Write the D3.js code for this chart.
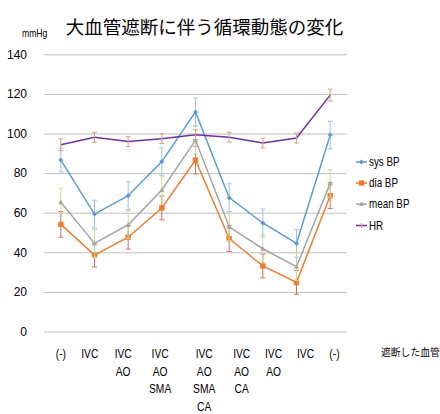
<!DOCTYPE html>
<html><head><meta charset="utf-8">
<script src="https://cdn.jsdelivr.net/npm/d3@7"></script>
<style>
html,body{margin:0;padding:0;background:#fff;}
svg{display:block;}
</style>
</head><body>
<svg id="chart" width="440" height="414"></svg>
<script>
// ---- data ----
const categories = [["(-)"],["IVC"],["IVC","AO"],["IVC","AO","SMA"],["IVC","AO","SMA","CA"],["IVC","AO","CA"],["IVC","AO"],["IVC"],["(-)"]];
const sysBP  = [86.6, 59.3, 68.6, 85.8, 110.9, 67.6, 54.8, 44.5, 99.2];
const sysErr = [6, 7, 7, 7, 7, 7, 7, 7, 7];
const diaBP  = [54.1, 38.6, 47.6, 62.4, 86.6, 46.9, 33.1, 24.8, 68.6];
const diaErr = [6.5, 6, 6, 6, 7, 6.5, 6, 6, 6.5];
const meanBP = [65.3, 44.5, 53.9, 71.5, 96.7, 52.9, 41.8, 32.7, 74.8];
const meanErr= [7, 7, 7, 7, 7, 7, 7, 7, 7];
const HR     = [94.3, 98.1, 95.9, 97.4, 99.4, 98.1, 95.2, 97.7, 119.4];
const hrErr  = [3, 2.5, 2.5, 2.5, 2.5, 2.5, 2.5, 2.5, 3];
const yTicks = [0, 20, 40, 60, 80, 100, 120, 140];
const seriesNames = ["sys BP", "dia BP", "mean BP", "HR"];
const title = "大血管遮断に伴う循環動態の変化";
const yUnit = "mmHg";
const xTitle = "遮断した血管";

// ---- layout / style ----
const labelShift = [0, -4.7, -5, -1.7, 8.7, 12.5, 10.7, 9, 4.3];
const styles = [
  {color:"#5b9bd5", err:"#9cc3e4", marker:"diamond"},
  {color:"#ed7d31", err:"#d66a6a", marker:"square"},
  {color:"#a5a5a5", err:"#c8de8e", marker:"triangle"},
  {color:"#7030a0", err:"#d8a27a", marker:"none"}
];
const sans = "'Liberation Sans',Arial,sans-serif";
const svg = d3.select("#chart");
const x = d3.scaleBand().domain(d3.range(categories.length)).range([44, 347]);
const y = d3.scaleLinear().domain([0, 140]).range([331.5, 54.3]);
const cx = i => x(i) + x.bandwidth() / 2;

// condensed text helper
function narrowText(parent, X, Y, str, size, anchor) {
  return parent.append("g").attr("transform", `translate(${X},${Y}) scale(0.82,1)`)
    .append("text").attr("x", 0).attr("y", 0).attr("text-anchor", anchor || "start")
    .attr("dominant-baseline", "central").style("font-family", sans)
    .style("font-size", size + "px").attr("fill", "#000").text(str);
}

// title
svg.append("text").attr("x", 204.5).attr("y", 25.5)
  .attr("text-anchor", "middle").attr("dominant-baseline", "central")
  .style("font-family", "'Noto Sans CJK JP',sans-serif").style("font-size", "18.5px")
  .attr("fill", "#000").text(title);
narrowText(svg, 22, 33, yUnit, 10.5);

// gridlines + y axis
const yAxis = d3.axisLeft(y).tickValues(yTicks).tickSize(-(347 - 44)).tickPadding(17);
const ga = svg.append("g").attr("transform", "translate(44,0)").call(yAxis);
ga.select(".domain").remove();
ga.selectAll(".tick line").attr("stroke", "#bfbfbf").attr("stroke-width", 1);
ga.selectAll(".tick text").style("font-family", sans)
  .style("font-size", "12px").attr("fill", "#000");

// x labels
const xl = svg.append("g");
categories.forEach((lines, i) => {
  lines.forEach((s, k) => narrowText(xl, cx(i) + labelShift[i], 354 + k * 17.5, s, 12.5, "middle"));
});
svg.append("text").attr("x", 381).attr("y", 352).attr("dominant-baseline", "central")
  .style("font-family", "'Noto Sans CJK JP',sans-serif").style("font-size", "9.8px").attr("fill", "#000").text(xTitle);

// series
const allSeries = [[sysBP, sysErr], [diaBP, diaErr], [meanBP, meanErr], [HR, hrErr]];
const line = d3.line().x((d, i) => cx(i)).y(d => y(d));
function marker(g, type, px, py, color) {
  if (type === "diamond") g.append("path").attr("d", `M${px},${py-2.5}L${px+2.5},${py}L${px},${py+2.5}L${px-2.5},${py}Z`).attr("fill", color);
  else if (type === "square") g.append("rect").attr("x", px - 2.7).attr("y", py - 2.7).attr("width", 5.4).attr("height", 5.4).attr("fill", color);
  else if (type === "triangle") g.append("path").attr("d", `M${px},${py-2.6}L${px+2.6},${py+2}L${px-2.6},${py+2}Z`).attr("fill", color);
  else if (type === "tick") g.append("path").attr("d", `M${px},${py-2.5}V${py+2.5}`).attr("stroke", color).attr("stroke-width", 1);
}
allSeries.forEach(([vals, errs], s) => {
  const st = styles[s];
  const g = svg.append("g");
  g.append("path").datum(vals).attr("d", line).attr("fill", "none")
    .attr("stroke", st.color).attr("stroke-width", 1.5);
  vals.forEach((v, i) => {
    const px = cx(i), y1 = y(v + errs[i]), y0 = y(v - errs[i]);
    g.append("line").attr("x1", px).attr("x2", px).attr("y1", y1).attr("y2", y0).attr("stroke", st.err).attr("stroke-width", 1);
    [y1, y0].forEach(yy => g.append("line").attr("x1", px - 2.5).attr("x2", px + 2.5).attr("y1", yy).attr("y2", yy).attr("stroke", st.err).attr("stroke-width", 1));
    marker(g, st.marker, px, y(v), st.color);
  });
});

// legend
const legY = [162, 183, 204, 225.5];
seriesNames.forEach((n, s) => {
  const st = styles[s];
  const g = svg.append("g");
  g.append("line").attr("x1", 356).attr("x2", 367).attr("y1", legY[s]).attr("y2", legY[s]).attr("stroke", st.color).attr("stroke-width", 1.5);
  marker(g, st.marker === "none" ? "tick" : st.marker, 361.5, legY[s], st.marker === "none" ? st.err : st.color);
  narrowText(g, 369, legY[s], n, 12);
});
</script>
</body></html>
